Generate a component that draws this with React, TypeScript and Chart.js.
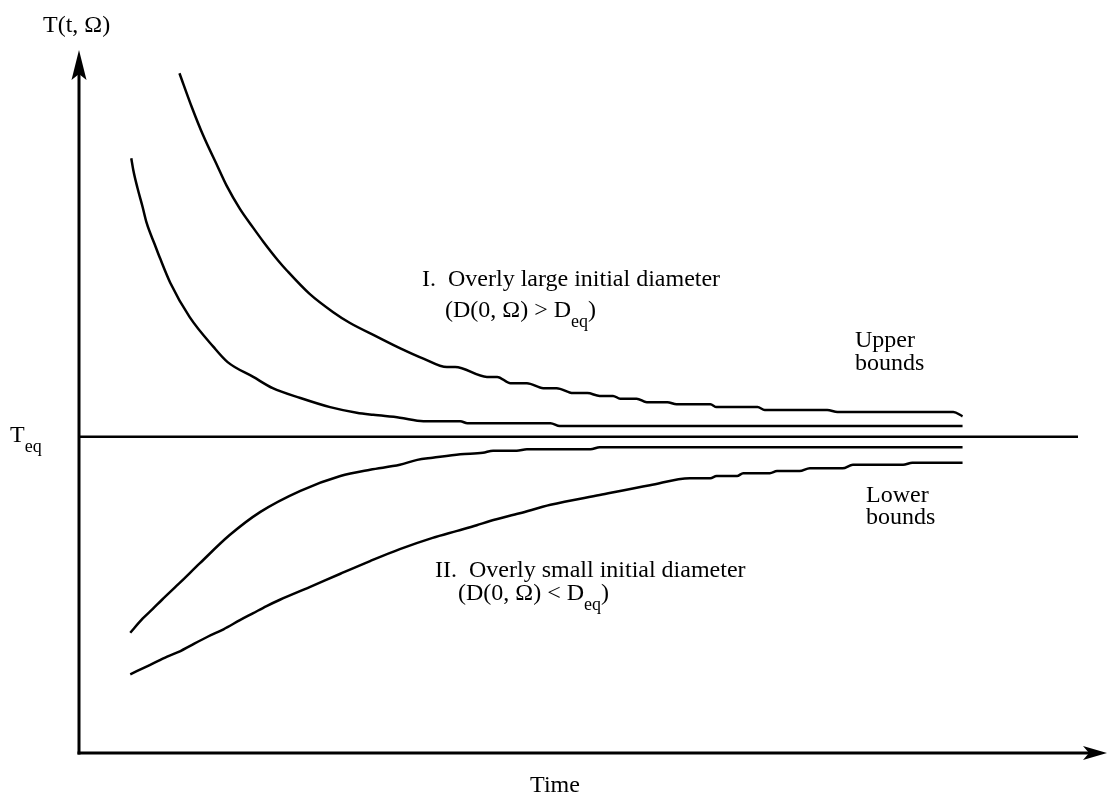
import React, { useEffect, useRef } from "react";
import { Chart, registerables } from "chart.js";

Chart.register(...registerables);

// ---- Data (time in arbitrary units 0..100, T in arbitrary units 0..100) ----
const T_EQ = 45.0;

const upperOuterTime = [9.8, 11.0, 12.1, 13.5, 14.4, 15.7, 17.0, 18.0, 19.4, 20.3, 22.5, 24.8, 26.4, 29.1, 31.3, 33.6, 35.9, 36.7, 39.8, 40.8, 42.1, 43.7, 45.3, 46.6, 48.2, 49.6, 50.8, 52.1, 52.8, 54.4, 55.4, 57.4, 58.3, 61.6, 62.2, 66.2, 66.9, 73.0, 74.0, 85.3, 86.2];
const upperOuterTemp = [96.7, 91.9, 87.9, 83.5, 80.7, 77.4, 74.7, 72.7, 70.1, 68.6, 65.3, 62.7, 61.2, 59.2, 57.6, 56.1, 54.9, 54.9, 53.5, 53.5, 52.6, 52.6, 51.9, 51.9, 51.2, 51.2, 50.8, 50.8, 50.4, 50.4, 49.9, 49.9, 49.6, 49.6, 49.2, 49.2, 48.8, 48.8, 48.5, 48.5, 47.9];

const upperInnerTime = [5.1, 5.3, 5.7, 6.2, 6.6, 7.4, 7.9, 8.9, 10.8, 13.1, 14.5, 17.0, 18.9, 21.6, 24.5, 27.1, 28.7, 31.3, 33.6, 37.2, 37.9, 46.0, 46.9, 86.2];
const upperInnerTemp = [84.6, 82.9, 80.4, 77.7, 75.4, 72.3, 70.4, 66.9, 62.0, 57.8, 55.6, 53.5, 51.9, 50.5, 49.2, 48.4, 48.1, 47.7, 47.2, 47.2, 46.9, 46.9, 46.5, 46.5];

const lowerInnerTime = [5.0, 6.2, 7.2, 8.1, 9.9, 11.8, 14.7, 17.7, 21.6, 25.5, 28.4, 31.3, 33.0, 34.5, 37.2, 39.4, 40.4, 42.7, 43.7, 49.9, 50.8, 86.2];
const lowerInnerTemp = [17.1, 19.1, 20.5, 21.8, 24.3, 27.0, 31.0, 34.3, 37.3, 39.4, 40.3, 41.0, 41.7, 42.0, 42.5, 42.7, 43.0, 43.0, 43.2, 43.2, 43.5, 43.5];

const lowerOuterTime = [5.0, 6.9, 8.6, 9.9, 10.8, 12.5, 14.1, 15.7, 17.0, 18.3, 19.6, 22.5, 25.5, 28.4, 31.3, 34.5, 36.9, 38.8, 40.1, 43.0, 46.0, 50.8, 55.7, 59.6, 61.6, 62.2, 64.2, 64.8, 67.4, 68.1, 70.3, 71.3, 74.5, 75.5, 80.4, 81.3, 86.2];
const lowerOuterTemp = [11.2, 12.5, 13.7, 14.5, 15.2, 16.5, 17.6, 18.9, 19.9, 20.9, 21.8, 23.6, 25.5, 27.3, 29.0, 30.6, 31.6, 32.4, 33.0, 34.1, 35.3, 36.7, 38.1, 39.1, 39.1, 39.4, 39.4, 39.8, 39.8, 40.1, 40.1, 40.5, 40.5, 41.0, 41.0, 41.3, 41.3];

const SERIF = '"Liberation Serif", "Times New Roman", Times, serif';

type Part = { text: string; sub?: boolean };

function drawRich(ctx: CanvasRenderingContext2D, x: number, y: number, parts: Part[], size: number) {
  let cx = x;
  ctx.textAlign = "left";
  ctx.textBaseline = "alphabetic";
  for (const p of parts) {
    const fs = p.sub ? Math.round(size * 0.75) : size;
    ctx.font = `${fs}px ${SERIF}`;
    const dy = p.sub ? size * 0.42 : 0;
    ctx.fillText(p.text, cx, y + dy);
    cx += ctx.measureText(p.text).width;
  }
}

function arrowHead(ctx: CanvasRenderingContext2D, tipX: number, tipY: number, dir: "up" | "right", len: number, half: number, notch: number) {
  ctx.beginPath();
  if (dir === "up") {
    ctx.moveTo(tipX, tipY);
    ctx.lineTo(tipX - half, tipY + len);
    ctx.lineTo(tipX, tipY + len - notch);
    ctx.lineTo(tipX + half, tipY + len);
  } else {
    ctx.moveTo(tipX, tipY);
    ctx.lineTo(tipX - len, tipY - half);
    ctx.lineTo(tipX - len + notch, tipY);
    ctx.lineTo(tipX - len, tipY + half);
  }
  ctx.closePath();
  ctx.fill();
}

const decorPlugin = {
  id: "decor",
  beforeDatasetsDraw(chart: any) {
    const ctx: CanvasRenderingContext2D = chart.ctx;
    const xs = chart.scales.x;
    const ys = chart.scales.y;
    const x0 = xs.getPixelForValue(0);
    const y0 = ys.getPixelForValue(0);
    const yTop = ys.getPixelForValue(100);
    const xRight = chart.chartArea.right + 3;
    ctx.save();
    ctx.fillStyle = "#000";
    ctx.strokeStyle = "#000";
    // y axis
    ctx.lineWidth = 3;
    ctx.beginPath();
    ctx.moveTo(x0, y0 + 1.5);
    ctx.lineTo(x0, yTop + 20);
    ctx.stroke();
    arrowHead(ctx, x0, yTop, "up", 30, 7.5, 6);
    // x axis
    ctx.beginPath();
    ctx.moveTo(x0 - 1.5, y0);
    ctx.lineTo(xRight - 18, y0);
    ctx.stroke();
    arrowHead(ctx, xRight, y0, "right", 24, 7, 6);
    // T_eq line
    const yEq = ys.getPixelForValue(T_EQ);
    ctx.lineWidth = 2.5;
    ctx.beginPath();
    ctx.moveTo(x0, yEq);
    ctx.lineTo(1078, yEq);
    ctx.stroke();
    ctx.restore();
  },
  afterDraw(chart: any) {
    const ctx: CanvasRenderingContext2D = chart.ctx;
    ctx.save();
    ctx.fillStyle = "#000";
    const fs = 24;
    drawRich(ctx, 43, 32, [{ text: "T(t, Ω)" }], fs);
    drawRich(ctx, 10, 442, [{ text: "T" }, { text: "eq", sub: true }], fs);
    drawRich(ctx, 422, 286, [{ text: "I.  Overly large initial diameter" }], fs);
    drawRich(ctx, 445, 317, [{ text: "(D(0, Ω) > D" }, { text: "eq", sub: true }, { text: ")" }], fs);
    drawRich(ctx, 435, 577, [{ text: "II.  Overly small initial diameter" }], fs);
    drawRich(ctx, 458, 600, [{ text: "(D(0, Ω) < D" }, { text: "eq", sub: true }, { text: ")" }], fs);
    drawRich(ctx, 855, 347, [{ text: "Upper" }], fs);
    drawRich(ctx, 855, 370, [{ text: "bounds" }], fs);
    drawRich(ctx, 866, 502, [{ text: "Lower" }], fs);
    drawRich(ctx, 866, 524, [{ text: "bounds" }], fs);
    ctx.font = `${fs}px ${SERIF}`;
    ctx.textAlign = "center";
    ctx.fillText("Time", 555, 792);
    ctx.restore();
  },
};

function series(times: number[], temps: number[]) {
  return times.map((t, i) => ({ x: t, y: temps[i] }));
}

export default function App() {
  const ref = useRef<HTMLCanvasElement>(null);
  useEffect(() => {
    const lineStyle = {
      borderColor: "#000",
      borderWidth: 2.5,
      pointRadius: 0,
      fill: false,
      cubicInterpolationMode: "monotone" as const,
    };
    const chart = new Chart(ref.current!, {
      type: "line",
      data: {
        datasets: [
          { label: "Upper outer", data: series(upperOuterTime, upperOuterTemp), ...lineStyle },
          { label: "Upper inner", data: series(upperInnerTime, upperInnerTemp), ...lineStyle },
          { label: "Lower inner", data: series(lowerInnerTime, lowerInnerTemp), ...lineStyle },
          { label: "Lower outer", data: series(lowerOuterTime, lowerOuterTemp), ...lineStyle },
        ],
      },
      options: {
        responsive: false,
        animation: false,
        devicePixelRatio: 1,
        layout: { padding: { left: 79, right: 5, top: 50, bottom: 56 } },
        plugins: { legend: { display: false }, tooltip: { enabled: false } },
        scales: {
          x: { type: "linear", min: 0, max: 100, display: false },
          y: { type: "linear", min: 0, max: 100, display: false },
        },
      },
      plugins: [decorPlugin],
    });
    return () => chart.destroy();
  }, []);
  return (
    <div style={{ position: "absolute", left: 0, top: 0, width: 1109, height: 809, background: "#fff" }}>
      <canvas ref={ref} width={1109} height={809} style={{ display: "block", width: 1109, height: 809 }} />
    </div>
  );
}
